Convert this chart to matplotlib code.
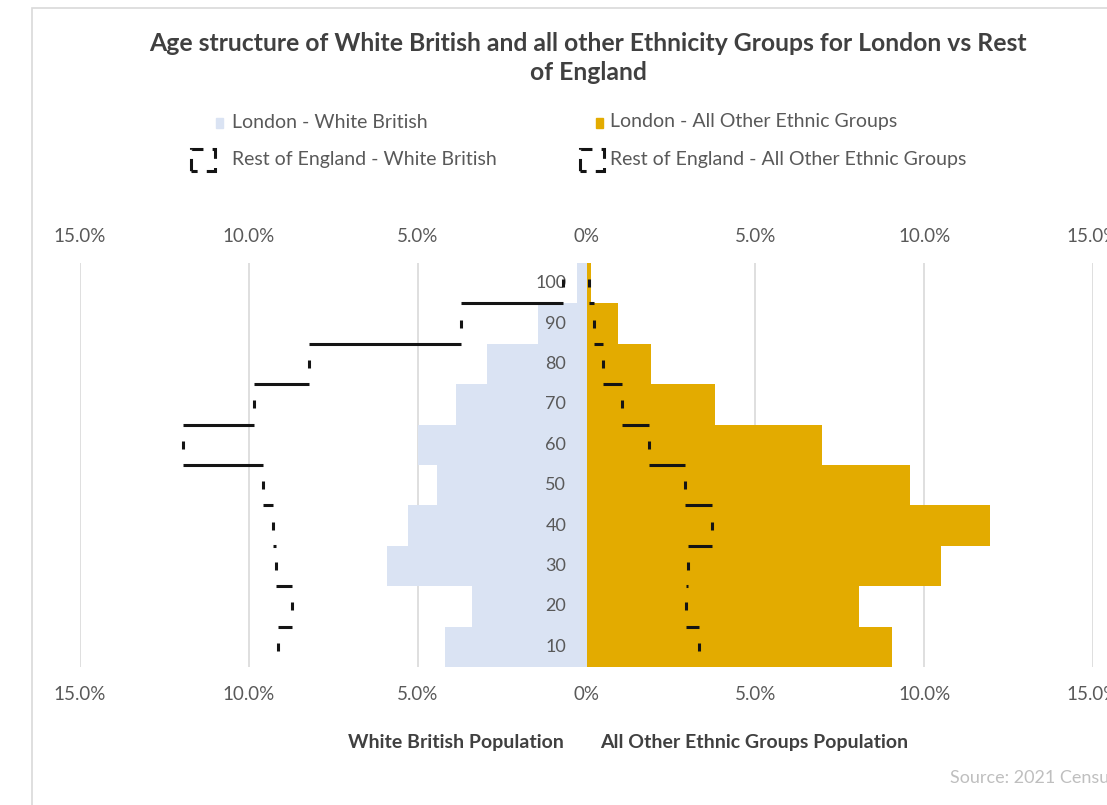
import matplotlib
matplotlib.use("Agg")
import matplotlib.pyplot as plt
from matplotlib.patches import Rectangle
import numpy as np

# ---------------- data ----------------
age_labels = ["10", "20", "30", "40", "50", "60", "70", "80", "90", "100"]
london_white_british = [4.20, 3.38, 5.92, 5.30, 4.44, 5.00, 3.85, 2.96, 1.45, 0.27]
london_other_ethnic = [9.06, 8.08, 10.51, 11.96, 9.59, 6.96, 3.82, 1.92, 0.92, 0.12]
rest_white_british = [9.15, 8.71, 9.21, 9.27, 9.59, 11.96, 9.86, 8.23, 3.73, 0.71]
rest_other_ethnic = [3.32, 2.96, 3.02, 3.73, 2.93, 1.84, 1.04, 0.50, 0.21, 0.06]
x_ticks = [-15, -10, -5, 0, 5, 10, 15]

title = ("Age structure of White British and all other Ethnicity Groups for London vs Rest\n"
         "of England")
legend_labels = ["London - White British", "London - All Other Ethnic Groups",
                 "Rest of England - White British", "Rest of England - All Other Ethnic Groups"]

# ---------------- style ----------------
BLUE = "#dae3f3"
GOLD = "#e3ab00"
LINE = "#141414"
GRID = "#d9d9d9"
TXT = "#595959"
DARK = "#404040"

plt.rcParams["font.family"] = ["Lato", "DejaVu Sans"]

W, H = 1107, 805
fig = plt.figure(figsize=(W / 100, H / 100), dpi=100)


def fx(x):
    return x / W


def fy(y):
    return 1 - y / H


# outer chart border
fig.add_artist(Rectangle((fx(32), fy(1000)), fx(1200), (1000 - 8) / H,
                         transform=fig.transFigure, fill=False,
                         edgecolor=GRID, lw=1.2))

ax_l, ax_r, ax_t, ax_b = 80, 1093, 263, 667
ax = fig.add_axes([fx(ax_l), fy(ax_b), (ax_r - ax_l) / W, (ax_b - ax_t) / H])

y = np.arange(len(age_labels))
lw_ = np.array(london_white_british)
lo_ = np.array(london_other_ethnic)
rw_ = np.array(rest_white_british)
ro_ = np.array(rest_other_ethnic)

ax.barh(y, -lw_, height=1.0, color=BLUE, zorder=2)
ax.barh(y, lo_, height=1.0, color=GOLD, zorder=2)


def dashed_outline(vals, sign):
    v = sign * vals
    ax.vlines(v, y - 0.1, y + 0.1, color=LINE, lw=2.2, zorder=4)
    lo = np.minimum(v[:-1], v[1:])
    hi = np.maximum(v[:-1], v[1:])
    ax.hlines(y[:-1] + 0.5, lo, hi, color=LINE, lw=2.2, zorder=4)


dashed_outline(rw_, -1)
dashed_outline(ro_, 1)

for yi, lab in zip(y, age_labels):
    ax.text(-0.6, yi, lab, ha="right", va="center", fontsize=13, color=TXT, zorder=3)

ax.set_xlim(-15, 15)
ax.set_ylim(-0.5, len(age_labels) - 0.5)
ax.set_yticks([])
ax.set_xticks(x_ticks)


def fmt(v, pos=None):
    return "0%" if v == 0 else f"{abs(v):.1f}%"


ax.xaxis.set_major_formatter(plt.FuncFormatter(fmt))
ax.tick_params(axis="x", length=0, pad=14, labelsize=13.5, labelcolor=TXT)
ax.grid(axis="x", color=GRID, lw=1.2, zorder=0)
ax.set_axisbelow(True)
for s in ax.spines.values():
    s.set_visible(False)

sec = ax.secondary_xaxis("top")
sec.set_xticks(x_ticks)
sec.xaxis.set_major_formatter(plt.FuncFormatter(fmt))
sec.tick_params(axis="x", length=0, pad=13, labelsize=13.5, labelcolor=TXT)
for s in sec.spines.values():
    s.set_visible(False)

# title
fig.text(fx(588), fy(58), title, ha="center", va="center", fontsize=17.8,
         fontweight="bold", color=DARK, linespacing=1.32)

# legend (manual)
leg_fs = 14
fig.add_artist(Rectangle((fx(216), fy(128)), 7 / W, 10 / H, transform=fig.transFigure,
                         color=BLUE))
fig.text(fx(232), fy(122), legend_labels[0], ha="left", va="center", fontsize=leg_fs, color=TXT)
fig.add_artist(Rectangle((fx(596), fy(128)), 7 / W, 10 / H, transform=fig.transFigure,
                         color=GOLD))
fig.text(fx(610), fy(122), legend_labels[1], ha="left", va="center", fontsize=leg_fs, color=TXT)
for x0 in (191, 580):
    fig.add_artist(Rectangle((fx(x0), fy(171)), 24 / W, 22 / H, transform=fig.transFigure,
                             fill=False, edgecolor=LINE, lw=2.2, linestyle=(2, (4, 3))))
fig.text(fx(232), fy(159), legend_labels[2], ha="left", va="center", fontsize=leg_fs, color=TXT)
fig.text(fx(610), fy(159), legend_labels[3], ha="left", va="center", fontsize=leg_fs, color=TXT)

# axis titles
fig.text(fx(456), fy(742), "White British Population", ha="center", va="center",
         fontsize=14, fontweight="bold", color=DARK)
fig.text(fx(754), fy(742), "All Other Ethnic Groups Population", ha="center", va="center",
         fontsize=14, fontweight="bold", color=DARK)

fig.text(fx(950), fy(778), "Source: 2021 Census", ha="left", va="center",
         fontsize=13, color="#bfbfbf")

fig.savefig("out.png", dpi=100, facecolor="white")
